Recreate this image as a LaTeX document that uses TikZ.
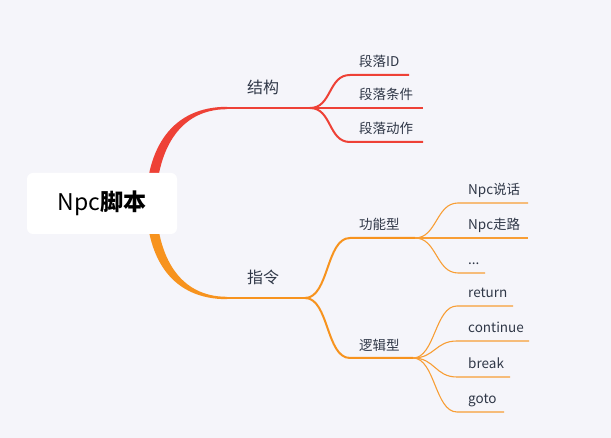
\documentclass[tikz,border=0pt]{standalone}
\usepackage{fontspec}
\setmainfont{Noto Sans CJK SC}
\definecolor{bg}{HTML}{F5F5FA}
\definecolor{cred}{HTML}{EE4136}
\definecolor{corg}{HTML}{F7931E}
\definecolor{txt}{HTML}{2F3747}
\begin{document}
\begin{tikzpicture}[x=1pt,y=-1pt,
  lbl/.style={anchor=base west, inner sep=0pt, text=txt, font=\fontsize{13.5}{16}\selectfont},
  lbltwo/.style={lbl, font=\fontsize{16}{19}\selectfont},
  rootbox/.style={fill=white, rounded corners=6pt, minimum width=150pt, minimum height=61pt, inner sep=0pt, text=black, font=\fontsize{23}{27}\selectfont},
  wred/.style={cred, line width=2.5pt},
  wred3/.style={cred, line width=2pt},
  worg/.style={corg, line width=2.5pt},
  worg3/.style={corg, line width=2pt},
  worg4/.style={corg!90!white, line width=1.1pt},
  sc/.style={}
]
\fill[bg] (0,0) rectangle (611,438);
\useasboundingbox (0,0) rectangle (611,438);

% level 2 points
\coordinate (s1) at (227,108);
\coordinate (f1) at (310,108);
\coordinate (s2) at (227,298);
\coordinate (f2) at (305,298);

% tapered root branches
\fill[cred] (146,206) .. controls (146,148) and (172,106.8) .. (227,106.8)
  -- (227,109.2) .. controls (178,109.2) and (156,152) .. (156,206) -- cycle;
\fill[corg] (146,202) .. controls (147,262) and (174,299.2) .. (227,299.2)
  -- (227,296.8) .. controls (180,296.8) and (157,258) .. (156,202) -- cycle;

\draw[wred] (s1) -- (f1);
\draw[worg] (s2) -- (f2);

% level 3 (structure)
\coordinate (a1) at (350,75);   \coordinate (a1e) at (409,75);
\coordinate (a2e) at (423,108);
\coordinate (a3) at (350,142);  \coordinate (a3e) at (423,142);
\draw[wred3] (f1) .. controls +(22,0) and +(-22,0) .. (a1) -- (a1e);
\draw[wred3] (f1) -- (a2e);
\draw[wred3] (f1) .. controls +(22,0) and +(-22,0) .. (a3) -- (a3e);

% level 3 (instructions)
\coordinate (b1) at (350,238);  \coordinate (g1) at (415,238);
\coordinate (b2) at (350,358);  \coordinate (g2) at (413,358);
\draw[worg3] (f2) .. controls +(24,0) and +(-24,0) .. (b1) -- (g1);
\draw[worg3] (f2) .. controls +(24,0) and +(-24,0) .. (b2) -- (g2);

% level 4 (functional)
\coordinate (c1) at (458,203);  \coordinate (c1e) at (528,203);
\coordinate (c2e) at (528,238);
\coordinate (c3) at (458,273);  \coordinate (c3e) at (485,273);
\draw[worg4] (g1) .. controls +(22,0) and +(-22,0) .. (c1) -- (c1e);
\draw[worg4] (g1) -- (c2e);
\draw[worg4] (g1) .. controls +(22,0) and +(-22,0) .. (c3) -- (c3e);

% level 4 (logic)
\coordinate (d1) at (457,306);  \coordinate (d1e) at (513,306);
\coordinate (d2) at (457,341);  \coordinate (d2e) at (529,341);
\coordinate (d3) at (457,377);  \coordinate (d3e) at (510,377);
\coordinate (d4) at (457,412);  \coordinate (d4e) at (504,412);
\draw[worg4] (g2) .. controls +(22,0) and +(-22,0) .. (d1) -- (d1e);
\draw[worg4] (g2) .. controls +(22,0) and +(-22,0) .. (d2) -- (d2e);
\draw[worg4] (g2) .. controls +(22,0) and +(-22,0) .. (d3) -- (d3e);
\draw[worg4] (g2) .. controls +(22,0) and +(-22,0) .. (d4) -- (d4e);

% root
\node[rootbox] (root) at (102,203.5) {Npc\textbf{脚本}};

% labels
\node[lbltwo] (jg) at (247,94) {结构};
\node[lbltwo] (zl) at (247,284) {指令};
\node[lbl] (dl1) at (359,67) {段落ID};
\node[lbl] (dl2) at (359,100) {段落条件};
\node[lbl] (dl3) at (359,134) {段落动作};
\node[lbl] (gn) at (359,230) {功能型};
\node[lbl] (lj) at (359,351) {逻辑型};
\node[lbl] (n1) at (468,195) {Npc说话};
\node[lbl] (n2) at (468,230) {Npc走路};
\node[lbl] (n3) at (468,265) {...};
\node[lbl] (r1) at (468,297.5) {return};
\node[lbl] (r2) at (468,332.5) {continue};
\node[lbl] (r3) at (468,368.5) {break};
\node[lbl] (r4) at (468,403.5) {goto};
\end{tikzpicture}
\end{document}
